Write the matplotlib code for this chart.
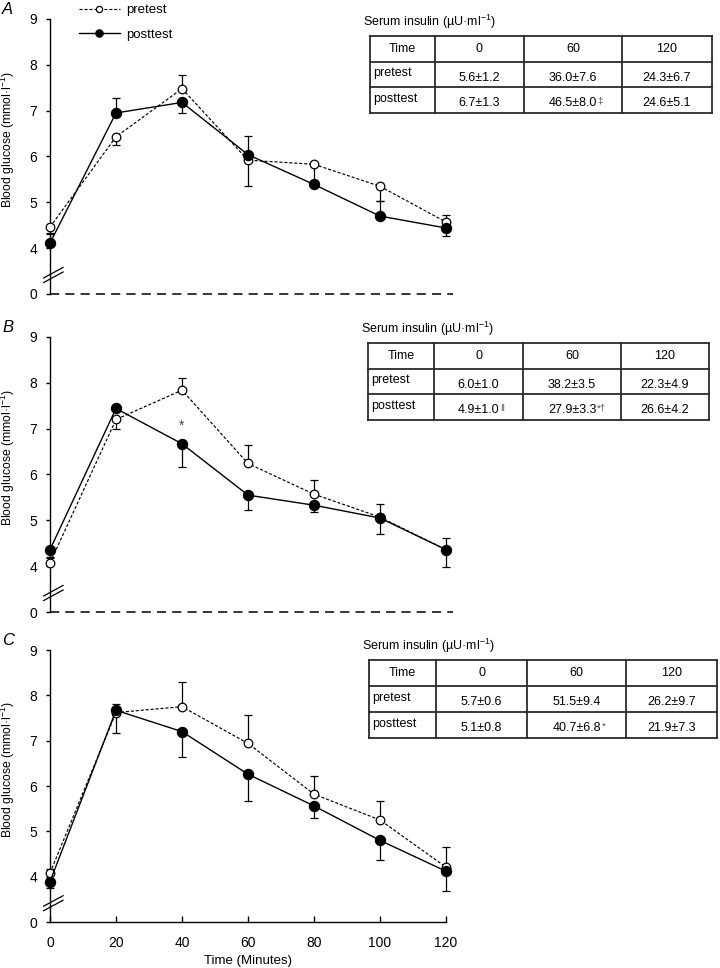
import matplotlib
matplotlib.use("Agg")
import matplotlib.pyplot as plt
import matplotlib.transforms as mtransforms
import numpy as np

plt.rcParams['font.family'] = ['Liberation Sans', 'DejaVu Sans']
plt.rcParams['mathtext.fontset'] = 'custom'
plt.rcParams['mathtext.rm'] = 'Liberation Sans'
plt.rcParams['mathtext.it'] = 'Liberation Sans:italic'

# ---------------- data ----------------
time_min = [0, 20, 40, 60, 80, 100, 120]
ytick_vals = [3, 4, 5, 6, 7, 8, 9]          # 3 = broken-axis position of "0"
ytick_labels = ['0', '4', '5', '6', '7', '8', '9']
xtick_vals = [0, 20, 40, 60, 80, 100, 120]

# Panel A
a_pre = [4.46, 6.43, 7.48, 5.92, 5.83, 5.35, 4.57]
a_post = [4.11, 6.95, 7.18, 6.04, 5.39, 4.70, 4.44]
a_pre_lo = [0.15, 0.19, 0.00, 0.56, 0.44, 0.33, 0.00]
a_pre_hi = [0.00, 0.00, 0.29, 0.00, 0.00, 0.00, 0.15]
a_post_lo = [0.00, 0.00, 0.23, 0.00, 0.00, 0.00, 0.18]
a_post_hi = [0.22, 0.33, 0.00, 0.41, 0.00, 0.32, 0.00]

# Panel B
b_pre = [4.07, 7.20, 7.84, 6.24, 5.57, 5.07, 4.36]
b_post = [4.36, 7.44, 6.67, 5.55, 5.33, 5.05, 4.36]
b_pre_lo = [0.00, 0.20, 0.00, 0.00, 0.00, 0.00, 0.00]
b_pre_hi = [0.12, 0.00, 0.27, 0.40, 0.31, 0.29, 0.25]
b_post_lo = [0.18, 0.00, 0.51, 0.32, 0.15, 0.34, 0.37]
b_post_hi = [0.00, 0.00, 0.00, 0.00, 0.00, 0.00, 0.00]

# Panel C
c_pre = [4.08, 7.62, 7.75, 6.94, 5.82, 5.25, 4.21]
c_post = [3.89, 7.67, 7.20, 6.26, 5.56, 4.80, 4.12]
c_pre_lo = [0.00, 0.46, 0.00, 0.00, 0.00, 0.00, 0.00]
c_pre_hi = [0.10, 0.00, 0.55, 0.62, 0.40, 0.42, 0.45]
c_post_lo = [0.13, 0.00, 0.56, 0.58, 0.27, 0.43, 0.44]
c_post_hi = [0.00, 0.13, 0.00, 0.00, 0.00, 0.00, 0.00]

# Insulin tables
table_header = ['Time', '0', '60', '120']
table_rows = ['pretest', 'posttest']
a_ins_pre = ['5.6±1.2', '36.0±7.6', '24.3±6.7']
a_ins_post = ['6.7±1.3', '46.5±8.0', '24.6±5.1']
a_ins_post_sup = ['', '‡', '']
b_ins_pre = ['6.0±1.0', '38.2±3.5', '22.3±4.9']
b_ins_post = ['4.9±1.0', '27.9±3.3', '26.6±4.2']
b_ins_post_sup = ['‖', '*†', '']
c_ins_pre = ['5.7±0.6', '51.5±9.4', '26.2±9.7']
c_ins_post = ['5.1±0.8', '40.7±6.8', '21.9±7.3']
c_ins_post_sup = ['', '*', '']

W, H = 720, 968
fig = plt.figure(figsize=(W / 100, H / 100), dpi=100)


def px_axes(left, top, right, bottom):
    return fig.add_axes([left / W, 1 - bottom / H, (right - left) / W, (bottom - top) / H])


def draw_panel(ax, pre, post, pre_lo, pre_hi, post_lo, post_hi, letter, bottom_axis):
    ax.errorbar(time_min, pre, yerr=[pre_lo, pre_hi], fmt='none', ecolor='black',
                elinewidth=0.9, capsize=2.6, capthick=0.9, zorder=2, clip_on=False)
    ax.errorbar(time_min, post, yerr=[post_lo, post_hi], fmt='none', ecolor='black',
                elinewidth=0.9, capsize=2.6, capthick=0.9, zorder=2, clip_on=False)
    lp, = ax.plot(time_min, pre, color='black', lw=0.85, dashes=(2.6, 1.6),
                  marker='o', ms=6.2, mfc='white', mec='black', mew=0.9,
                  zorder=3, clip_on=False, label='pretest')
    lq, = ax.plot(time_min, post, color='black', lw=1.0, ls='-',
                  marker='o', ms=7.2, mfc='black', mec='black',
                  zorder=4, clip_on=False, label='posttest')
    ax.set_xlim(0, 120)
    ax.set_ylim(3, 9)
    ax.set_yticks(ytick_vals)
    ax.set_yticklabels(ytick_labels)
    for s in ['top', 'right']:
        ax.spines[s].set_visible(False)
    ax.spines['left'].set_linewidth(1.0)
    ax.tick_params(axis='y', direction='out', length=3, width=1.0, pad=6, labelsize=10)
    if bottom_axis:
        ax.spines['bottom'].set_linewidth(1.0)
        ax.set_xticks(xtick_vals)
        ax.tick_params(axis='x', direction='in', length=4, width=1.0, pad=10, labelsize=10)
        ax.set_xlabel('Time (Minutes)', fontsize=9.5, labelpad=4)
    else:
        ax.spines['bottom'].set_visible(False)
        ax.set_xticks([])
        ax.axhline(3, xmin=0, xmax=1.018, color='black', lw=1.1, dashes=(6, 4),
                   clip_on=False, zorder=1)
    # axis break marks
    tr = mtransforms.blended_transform_factory(ax.transAxes, ax.transData)
    for off in (0.0, 0.1):
        ax.plot([-0.016, 0.033], [3.25 + off, 3.48 + off], color='black', lw=0.9,
                transform=tr, clip_on=False, zorder=5)
    ax.text(-0.106, 0.56, 'Blood glucose (mmol·l$^{-1}$)', rotation=90,
            transform=ax.transAxes, ha='center', va='center', fontsize=8.8)
    ax.text(-0.121, 1.035, letter, transform=ax.transAxes, fontsize=12,
            fontstyle='italic', ha='left', va='center')
    return lp, lq


def draw_table(left, top, right, bottom, cols, pre_vals, post_vals, post_sup):
    ax = px_axes(left, top, right, bottom)
    ax.set_xlim(0, 1)
    ax.set_ylim(3, 0)
    ax.axis('off')
    edges = [0] + cols + [1]
    lc = '#2b2b2b'
    for xe in edges:
        ax.plot([xe, xe], [0, 3], color=lc, lw=1.3, clip_on=False)
    for yr in range(4):
        ax.plot([0, 1], [yr, yr], color=lc, lw=1.3, clip_on=False)
    centers = [(edges[i] + edges[i + 1]) / 2 for i in range(4)]
    for i, h in enumerate(table_header):
        ax.text(centers[i], 0.5, h, ha='center', va='center', fontsize=9)
    renderer = fig.canvas.get_renderer()
    for r, (name, vals) in enumerate(zip(table_rows, [pre_vals, post_vals])):
        y = 1.45 + r
        ax.text(0.01, y, name, ha='left', va='center', fontsize=9)
        for i, v in enumerate(vals):
            sup = post_sup[i] if r == 1 else ''
            t = ax.text(centers[i + 1], y + 0.17, v, ha='center', va='center', fontsize=9)
            if sup:
                bb = t.get_window_extent(renderer=renderer)
                inv = ax.transData.inverted()
                x1, y1 = inv.transform((bb.x1, bb.y1))
                ax.text(x1 + 0.002, y1 - 0.02, sup, ha='left', va='top', fontsize=6.8,
                        color='#444444')
    fig.text((left - 7) / W, 1 - (top - 14) / H, 'Serum insulin (µU·ml$^{-1}$)',
             ha='left', va='center', fontsize=9)


axA = px_axes(50, 19, 446, 294)
axB = px_axes(50, 337, 446, 612)
axC = px_axes(50, 650, 446, 922)

lp, lq = draw_panel(axA, a_pre, a_post, a_pre_lo, a_pre_hi, a_post_lo, a_post_hi, 'A', False)
draw_panel(axB, b_pre, b_post, b_pre_lo, b_pre_hi, b_post_lo, b_post_hi, 'B', False)
draw_panel(axC, c_pre, c_post, c_pre_lo, c_pre_hi, c_post_lo, c_post_hi, 'C', True)

axB.text(40, 7.07, '*', ha='center', va='center', fontsize=10, color='#444444')

fig.legend(handles=[lp, lq], loc='upper left', bbox_to_anchor=(79 / W, 1 - 4 / H),
           frameon=False, fontsize=9.5, handlelength=3.1, handletextpad=0.45,
           labelspacing=0.95, borderpad=0, borderaxespad=0, markerscale=0.72)

draw_table(370, 36, 712, 113, [0.190, 0.450, 0.737], a_ins_pre, a_ins_post, a_ins_post_sup)
draw_table(368, 343, 709, 420, [0.194, 0.455, 0.742], b_ins_pre, b_ins_post, b_ins_post_sup)
draw_table(369, 660, 717, 738, [0.193, 0.454, 0.739], c_ins_pre, c_ins_post, c_ins_post_sup)

fig.savefig('out.png', dpi=100)
